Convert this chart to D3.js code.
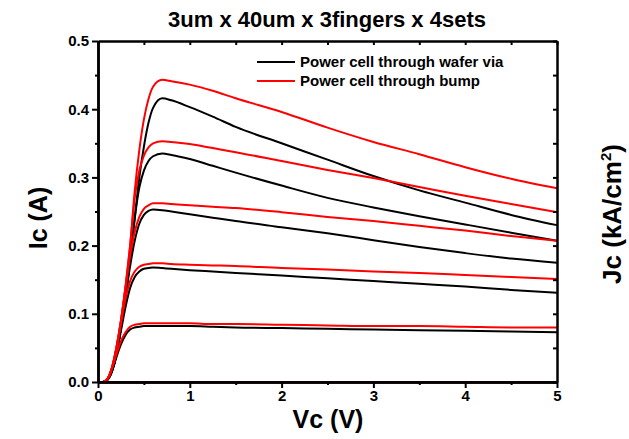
<!DOCTYPE html>
<html>
<head>
<meta charset="utf-8">
<script src="https://cdn.jsdelivr.net/npm/d3@7"></script>
<style>
body { margin: 0; background: #fff; }
text { font-family: "Liberation Sans", Arial, sans-serif; font-weight: bold; fill: #000; }
</style>
</head>
<body>
<svg id="chart"></svg>
<script>
var w = 629;
var h = 439;

// collector voltage (V)
var vc = [0, 0.05, 0.1, 0.15, 0.2, 0.25, 0.3, 0.35, 0.4, 0.45, 0.5, 0.55, 0.6, 0.7, 0.8, 1.0, 1.25, 1.5, 2, 2.5, 3, 3.5, 4, 4.5, 5];

// Ic (A), power cell through wafer via
var wafer1 = [0, 0, .003, .015, .036, .055, .069, .077, .080, .081, .082, .082, .082, .082, .082, .082, .081, .080, .079, .078, .077, .076, .075, .074, .073];
var wafer2 = [0, 0, .003, .015, .040, .075, .110, .138, .154, .162, .166, .167, .168, .167, .166, .164, .162, .160, .156, .152, .148, .144, .140, .135, .131];
var wafer3 = [0, 0, .003, .015, .040, .080, .125, .170, .207, .232, .245, .251, .253, .252, .250, .246, .241, .236, .227, .218, .208, .198, .189, .181, .175];
var wafer4 = [0, 0, .003, .015, .040, .080, .125, .180, .240, .285, .310, .324, .331, .335, .333, .327, .317, .307, .288, .270, .256, .243, .231, .219, .207];
var wafer5 = [0, 0, .003, .015, .040, .080, .125, .180, .240, .300, .345, .380, .402, .416, .413, .403, .389, .374, .350, .326, .302, .281, .263, .245, .230];

// Ic (A), power cell through bump
var bump0 = [0, 0, 0, 0, 0, 0, 0, 0, 0, 0, 0, 0, 0, 0, 0, 0, 0, 0, 0, 0, 0, 0, 0, 0, 0];
var bump1 = [0, 0, .004, .019, .040, .060, .073, .081, .084, .085, .086, .086, .086, .086, .086, .086, .085, .085, .084, .083, .082, .082, .081, .080, .080];
var bump2 = [0, 0, .004, .020, .048, .085, .122, .148, .162, .169, .172, .173, .174, .174, .173, .172, .171, .170, .167, .165, .162, .160, .157, .154, .151];
var bump3 = [0, 0, .004, .020, .050, .090, .138, .185, .220, .242, .254, .259, .262, .262, .261, .259, .257, .255, .249, .242, .236, .229, .222, .214, .207];
var bump4 = [0, 0, .004, .020, .050, .090, .140, .200, .270, .310, .332, .344, .350, .353, .352, .349, .343, .337, .324, .311, .299, .286, .273, .261, .249];
var bump5 = [0, 0, .004, .020, .050, .090, .140, .200, .280, .340, .385, .415, .433, .443, .441, .436, .427, .416, .396, .373, .352, .334, .315, .298, .284];

var waferSeries = [wafer1, wafer2, wafer3, wafer4, wafer5];
var bumpSeries = [bump0, bump1, bump2, bump3, bump4, bump5];

var yMajor = [0, 0.1, 0.2, 0.3, 0.4, 0.5];
var yMinor = [0.05, 0.15, 0.25, 0.35, 0.45];
var xMajor = [0, 1, 2, 3, 4, 5];
var xMinor = [0.5, 1.5, 2.5, 3.5, 4.5];
var legendNames = ["Power cell through wafer via", "Power cell through bump"];
var legendColors = ["#000000", "#ff0000"];

var svg = d3.select("#chart")
    .attr("width", w)
    .attr("height", h);

var x = d3.scaleLinear().domain([0, 5]).range([98, 557]);
var y = d3.scaleLinear().domain([0, 0.5]).range([382, 41]);

drawChart();

function styleAxis(g) {
    g.select(".domain").attr("stroke", "#000").attr("stroke-width", 2.5);
    g.selectAll(".tick line").attr("stroke", "#000").attr("stroke-width", 2);
    g.selectAll(".tick text").style("font-size", "15px").style("font-weight", "bold")
        .style("font-family", "'Liberation Sans', Arial, sans-serif").attr("fill", "#000");
}

function drawChart() {
    // curves
    var line = d3.line()
        .x(function(d, i) { return x(vc[i]); })
        .y(function(d) { return y(d); })
        .curve(d3.curveMonotoneX);

    svg.append("g").selectAll("path")
        .data(waferSeries)
        .enter().append("path")
        .attr("d", line)
        .attr("fill", "none")
        .attr("stroke", "#000")
        .attr("stroke-width", 2);

    svg.append("g").selectAll("path")
        .data(bumpSeries)
        .enter().append("path")
        .attr("d", line)
        .attr("fill", "none")
        .attr("stroke", "#ff0000")
        .attr("stroke-width", 2);

    // left axis
    var left = svg.append("g").attr("transform", "translate(98,0)")
        .call(d3.axisLeft(y).tickValues(yMajor).tickSize(6).tickSizeOuter(0).tickPadding(3).tickFormat(d3.format(".1f")));
    styleAxis(left);
    var leftMinor = svg.append("g").attr("transform", "translate(98,0)")
        .call(d3.axisLeft(y).tickValues(yMinor).tickSize(3).tickSizeOuter(0).tickFormat(""));
    styleAxis(leftMinor);

    // bottom axis
    var bottom = svg.append("g").attr("transform", "translate(0,382)")
        .call(d3.axisBottom(x).tickValues(xMajor).tickSize(6).tickSizeOuter(0).tickPadding(2).tickFormat(d3.format("d")));
    styleAxis(bottom);
    var bottomMinor = svg.append("g").attr("transform", "translate(0,382)")
        .call(d3.axisBottom(x).tickValues(xMinor).tickSize(3).tickSizeOuter(0).tickFormat(""));
    styleAxis(bottomMinor);

    // top and right frame, ticks pointing in
    var top = svg.append("g").attr("transform", "translate(0,41)")
        .call(d3.axisBottom(x).tickValues(xMajor.concat(xMinor)).tickSize(4).tickSizeOuter(0).tickFormat(""));
    styleAxis(top);
    var right = svg.append("g").attr("transform", "translate(557,0)")
        .call(d3.axisLeft(y).tickValues(yMajor.concat(yMinor)).tickSize(4).tickSizeOuter(0).tickFormat(""));
    styleAxis(right);

    // legend
    var legend = svg.append("g");
    legendNames.forEach(function(name, i) {
        legend.append("line")
            .attr("x1", 257).attr("x2", 295)
            .attr("y1", 62 + i * 19).attr("y2", 62 + i * 19)
            .attr("stroke", legendColors[i])
            .attr("stroke-width", 2);
        legend.append("text")
            .attr("x", 300)
            .attr("y", 62 + i * 19 + 5)
            .style("font-size", "15px")
            .text(name);
    });

    // titles
    svg.append("text")
        .attr("x", 327)
        .attr("y", 27)
        .attr("text-anchor", "middle")
        .style("font-size", "22px")
        .text("3um x 40um x 3fingers x 4sets");

    svg.append("text")
        .attr("x", 328)
        .attr("y", 428)
        .attr("text-anchor", "middle")
        .style("font-size", "25px")
        .text("Vc (V)");

    svg.append("text")
        .attr("transform", "translate(47,218) rotate(-90)")
        .attr("text-anchor", "middle")
        .style("font-size", "25px")
        .text("Ic (A)");

    var jc = svg.append("text")
        .attr("transform", "translate(621,214) rotate(-90)")
        .attr("text-anchor", "middle")
        .style("font-size", "26px");
    jc.append("tspan").text("Jc (kA/cm");
    jc.append("tspan").attr("dy", -10).style("font-size", "15px").text("2");
    jc.append("tspan").attr("dy", 10).text(")");
}
</script>
</body>
</html>
